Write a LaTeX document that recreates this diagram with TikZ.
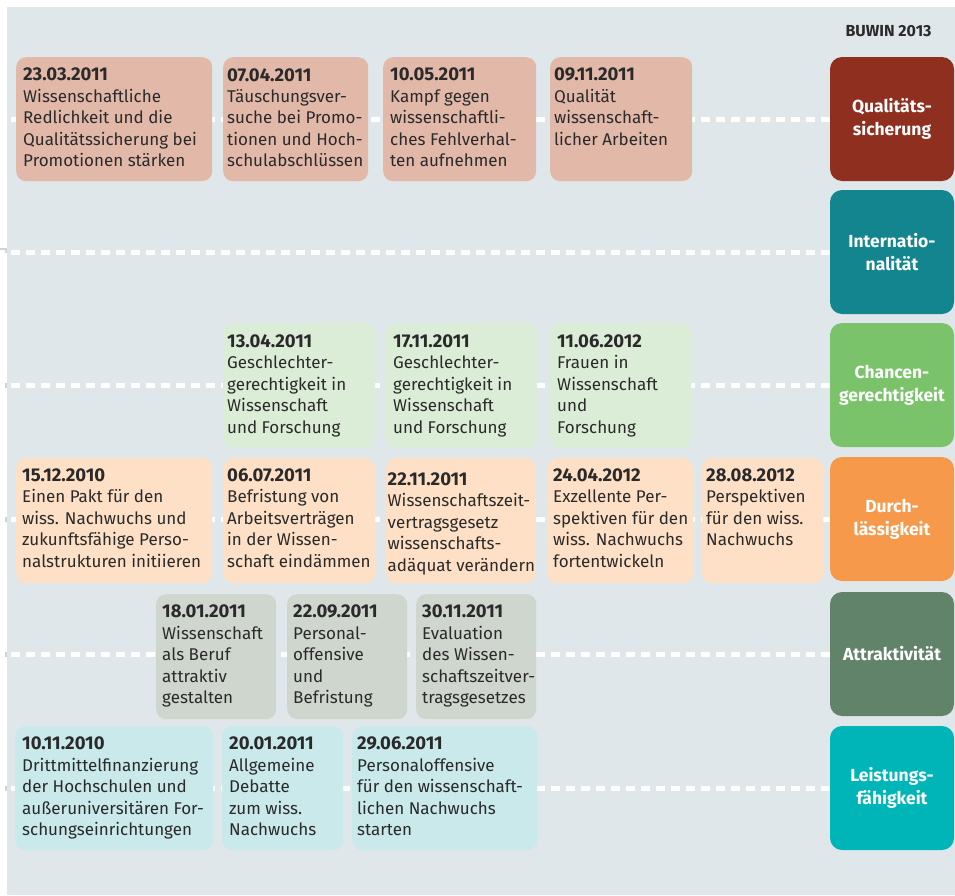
\documentclass[tikz,border=0pt]{standalone}
\usepackage{fontspec}
\setmainfont{Fira Sans}
\definecolor{bgc}{HTML}{DFE7EA}
\definecolor{stubc}{HTML}{CDD5DA}
\definecolor{txt}{HTML}{2A2A2A}
\definecolor{cq}{HTML}{8F2F1F}
\definecolor{ci}{HTML}{12858F}
\definecolor{cc}{HTML}{7BC36A}
\definecolor{cd}{HTML}{F7994B}
\definecolor{ca}{HTML}{61836A}
\definecolor{cl}{HTML}{00B5B8}
\definecolor{rq}{HTML}{E2B9A9}
\definecolor{rc}{HTML}{DCEDD7}
\definecolor{rd}{HTML}{FDE0C6}
\definecolor{ra}{HTML}{CFD6CE}
\definecolor{rl}{HTML}{C9E9EA}
\tikzset{
  catbox/.style={fill=#1, rounded corners=12pt, minimum width=124pt, minimum height=124pt,
    inner sep=0pt, text=white, align=center,
    font=\fontsize{17.5}{23}\selectfont\bfseries},
  evbox/.style={fill=#1, rounded corners=10pt, inner sep=0pt, anchor=north west},
  evtext/.style={inner sep=0pt, anchor=north west, align=left, text=txt,
    font=\fontsize{17}{21.4}\selectfont},
  dline/.style={draw=white, line width=5pt, dash pattern=on 9pt off 6pt},
}
\newcommand\evdate[1]{{\fontsize{18.5}{21.4}\selectfont\bfseries #1}}
\newcommand\evt[9]{%
  \node[evbox=#6, minimum width={#4-#2}, minimum height={#5-#3}] (#1) at (#2,#3) {};
  \node[evtext] (#1t) at ([xshift=#8pt,yshift=-#7pt]#1.north west) {#9};
}
\begin{document}
\begin{tikzpicture}[x=1pt,y=-1pt]
\useasboundingbox (0,0) rectangle (955,895);
\fill[bgc] (7,7) rectangle (955,895);
\coordinate (O) at (0,0);
% stubs in left margin
\foreach \yy in {250,385,519,654,788}{
  \fill[stubc] (0,\yy-2.5) rectangle (7,\yy+2.5);
}
\node[anchor=base east, text=txt, font=\fontsize{16}{18}\selectfont\bfseries] (title) at (935,36) {BUWIN 2013};
% categories
\node[catbox=cq] (q) at (892,119) {Qualitäts-\\sicherung};
\node[catbox=ci] (i) at (892,252) {Internatio-\\nalität};
\node[catbox=cc] (c) at (892,385) {Chancen-\\gerechtigkeit};
\node[catbox=cd] (d) at (892,519) {Durch-\\lässigkeit};
\node[catbox=ca] (a) at (892,654) {Attraktivität};
\node[catbox=cl] (l) at (892,788) {Leistungs-\\fähigkeit};
% dashed lines
\draw[dline] (q.west) -- (q.west -| O);
\draw[dline] (i.west) -- (i.west -| O);
\draw[dline] (c.west) -- (c.west -| O);
\draw[dline] (d.west) -- (d.west -| O);
\draw[dline] (a.west) -- (a.west -| O);
\draw[dline] (l.west) -- (l.west -| O);
% row Qualitaet
\evt{e11}{16}{57}{212}{181}{rq}{11}{7}{\evdate{23.03.2011}\\Wissenschaftliche\\Redlichkeit und die\\Qualitätssicherung bei\\Promotionen stärken}
\evt{e12}{223}{57}{368}{181}{rq}{11}{4}{\evdate{07.04.2011}\\Täuschungsver-\\suche bei Promo-\\tionen und Hoch-\\schulabschlüssen}
\evt{e13}{383}{57}{536}{181}{rq}{11}{7}{\evdate{10.05.2011}\\Kampf gegen\\wissenschaftli-\\ches Fehlverhal-\\ten aufnehmen}
\evt{e14}{550}{57}{692}{181}{rq}{11}{4}{\evdate{09.11.2011}\\Qualität\\wissenschaft-\\licher Arbeiten}
% row Chancen
\evt{e31}{223}{323}{375}{448}{rc}{11.5}{4}{\evdate{13.04.2011}\\Geschlechter-\\gerechtigkeit in\\Wissenschaft\\und Forschung}
\evt{e32}{386}{323}{537}{448}{rc}{11.5}{7}{\evdate{17.11.2011}\\Geschlechter-\\gerechtigkeit in\\Wissenschaft\\und Forschung}
\evt{e33}{550}{323}{691}{448}{rc}{11.5}{7}{\evdate{11.06.2012}\\Frauen in\\Wissenschaft\\und\\Forschung}
% row Durchlaessigkeit
\evt{e41}{16}{458}{212}{583}{rd}{10.5}{6}{\evdate{15.12.2010}\\Einen Pakt für den\\wiss. Nachwuchs und\\zukunftsfähige Perso-\\nalstrukturen initiieren}
\evt{e42}{223}{458}{375}{583}{rd}{10.5}{4}{\evdate{06.07.2011}\\Befristung von\\Arbeitsverträgen\\in der Wissen-\\schaft eindämmen}
\evt{e43}{386}{458}{536}{583}{rd}{14.5}{1.5}{\evdate{22.11.2011}\\Wissenschaftszeit-\\vertragsgesetz\\wissenschafts-\\adäquat verändern}
\evt{e44}{547}{458}{693}{583}{rd}{10.5}{6}{\evdate{24.04.2012}\\Exzellente Per-\\spektiven für den\\wiss. Nachwuchs\\fortentwickeln}
\evt{e45}{702}{458}{823}{583}{rd}{10.5}{4}{\evdate{28.08.2012}\\Perspektiven\\für den wiss.\\Nachwuchs}
% row Attraktivitaet
\evt{e51}{156}{594}{276}{719}{ra}{11}{6}{\evdate{18.01.2011}\\Wissenschaft\\als Beruf\\attraktiv\\gestalten}
\evt{e52}{287}{594}{407}{719}{ra}{11}{6}{\evdate{22.09.2011}\\Personal-\\offensive\\und\\Befristung}
\evt{e53}{416}{594}{536}{719}{ra}{11}{6}{\evdate{30.11.2011}\\Evaluation\\des Wissen-\\schaftszeitver-\\tragsgesetzes}
% row Leistung
\evt{e61}{15}{726}{213}{850}{rl}{11}{7}{\evdate{10.11.2010}\\Drittmittelfinanzierung\\der Hochschulen und\\außeruniversitären For-\\schungseinrichtungen}
\evt{e62}{222}{726}{343}{850}{rl}{11}{7}{\evdate{20.01.2011}\\Allgemeine\\Debatte\\zum wiss.\\Nachwuchs}
\evt{e63}{352}{726}{537}{850}{rl}{11}{5}{\evdate{29.06.2011}\\Personaloffensive\\für den wissenschaft-\\lichen Nachwuchs\\starten}
\end{tikzpicture}
\end{document}
